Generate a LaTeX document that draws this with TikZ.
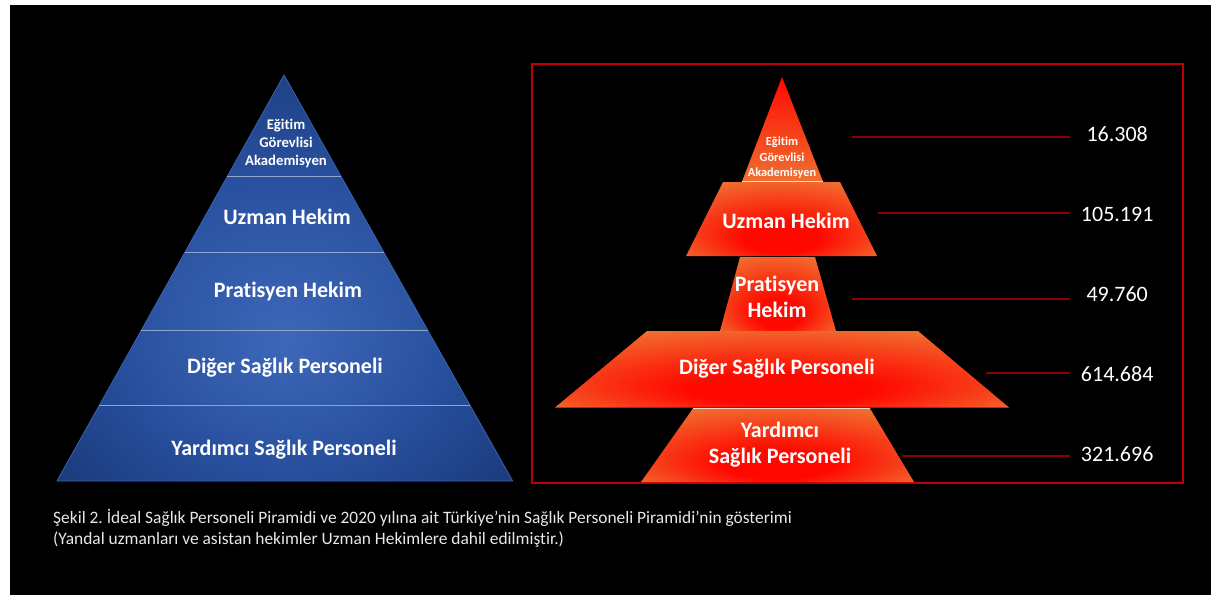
\documentclass[tikz,border=0pt]{standalone}
\usepackage{fontspec}
\setmainfont[Ligatures=NoCommon]{Carlito}
\usetikzlibrary{calc,positioning}
\definecolor{sealight}{HTML}{3D68B8}
\definecolor{seamid}{HTML}{28509E}
\definecolor{seadark}{HTML}{0D2258}
\definecolor{seaedge}{HTML}{3A62B0}
\definecolor{sealine}{HTML}{8FA5CF}
\definecolor{lavared}{HTML}{FF0800}
\definecolor{lavaorange}{HTML}{F07030}
\definecolor{framered}{HTML}{C00000}
\definecolor{leaderred}{HTML}{8B0000}
\definecolor{capgray}{HTML}{E8E8E8}
\pgfdeclareradialshading{deepsea}{\pgfpoint{0bp}{-8bp}}{color(0bp)=(sealight); color(18bp)=(seamid); color(50bp)=(seadark)}
\pgfdeclareradialshading{lava}{\pgfpoint{0bp}{-16bp}}{color(0bp)=(lavared); color(10bp)=(lavared); color(34bp)=(lavaorange); color(50bp)=(lavaorange)}
\frenchspacing

\begin{document}
\begin{tikzpicture}[x=1pt,y=-1pt,
  tier/.style={text=white,font=\bfseries\fontsize{22}{26}\selectfont,align=center,inner sep=0pt},
  small tier/.style={tier,font=\bfseries\fontsize{14.7}{18}\selectfont},
  tiny tier/.style={tier,font=\bfseries\fontsize{12.3}{15.5}\selectfont},
  number/.style={anchor=west,text width=94pt,align=center,inner sep=0pt,text=white,font=\fontsize{22}{26}\selectfont},
  leader/.style={draw=leaderred,line width=1.5pt},
  divider/.style={draw=sealine,line width=1pt},
  seam/.style={draw=white!75!lavaorange,line width=0.8pt},
  ]
\useasboundingbox (0,0) rectangle (1211,595);
\fill[white] (0,0) rectangle (1211,595);
\fill[black] (10,5) rectangle (1211,595);

% ideal pyramid
\coordinate (A) at (284,75);
\coordinate (BL) at (57,481);
\coordinate (BR) at (512.7,481);
\shadedraw[shading=deepsea,draw=seaedge,line width=0.8pt] (A)--(BL)--(BR)--cycle;
\foreach \t in {0.249,0.437,0.630,0.815}
  \draw[divider] ($(A)!\t!(BL)$) -- ($(A)!\t!(BR)$);
\node (L1) at (286,143)[small tier] {Eğitim\\Görevlisi\\Akademisyen};
\node (L2) at (287,217)[tier] {Uzman Hekim};
\node (L3) at (288,292)[tier] {Pratisyen Hekim};
\node (L4) at (285,368)[tier] {Diğer Sağlık Personeli};
\node (L5) at (284,450)[tier] {Yardımcı Sağlık Personeli};

% 2020 pyramid
\draw[framered,line width=2pt] (531.5,63.5) rectangle (1183,482.5);
\shade[top color=lavared,bottom color=lavaorange] (782,77)--(742,181.5)--(823,181.5)--cycle;
\shade[shading=lava] (723,182)--(686,256)--(877,256)--(840,182)--cycle;
\shade[shading=lava] (740,257)--(720,331)--(836,331)--(815,257)--cycle;
\shade[shading=lava] (647,331)--(555,407.5)--(1009,407.5)--(918,331)--cycle;
\shade[shading=lava] (693,408.5)--(641,482)--(914,482)--(870,408.5)--cycle;
\draw[seam] (742,181.5)--(823,181.5);
\draw[seam] (693,408.5)--(870,408.5);
\node (R1) at (782,158)[tiny tier] {Eğitim\\Görevlisi\\Akademisyen};
\node (R2) at (786,221)[tier] {Uzman Hekim};
\node (R3) at (777,297)[tier] {Pratisyen\\Hekim};
\node (R4) at (777,369)[tier] {Diğer Sağlık Personeli};
\node (R5) at (780,445)[tier] {Yardımcı\\Sağlık Personeli};

% counts
\node (N1) at (1070,134)[number] {16.308};
\node (N2) at (1070,214)[number] {105.191};
\node (N3) at (1070,294)[number] {49.760};
\node (N4) at (1070,374)[number] {614.684};
\node (N5) at (1070,454)[number] {321.696};
\coordinate (S1) at (852,137);
\coordinate (S2) at (878,213);
\coordinate (S3) at (852,299);
\coordinate (S4) at (986,373);
\coordinate (S5) at (902,456);
\foreach \i in {1,...,5}
  \draw[leader] (S\i) -- (S\i -| N\i.west);

% caption
\node (cap) at (53,528)[anchor=west,align=left,inner sep=0pt,text=capgray,font=\fontsize{17.4}{21}\selectfont] {Şekil 2. İdeal Sağlık Personeli Piramidi ve 2020 yılına ait Türkiye’nin Sağlık Personeli Piramidi’nin gösterimi\\(Yandal uzmanları ve asistan hekimler Uzman Hekimlere dahil edilmiştir.)};
\end{tikzpicture}
\end{document}
